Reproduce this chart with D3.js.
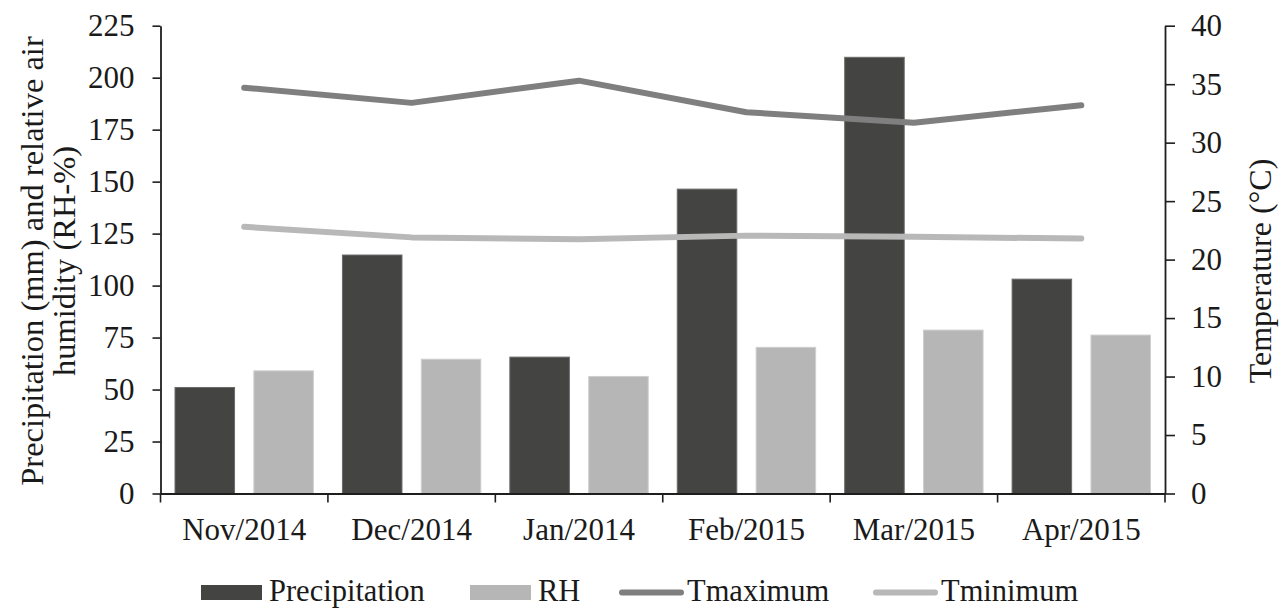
<!DOCTYPE html>
<html>
<head>
<meta charset="utf-8">
<script src="https://cdn.jsdelivr.net/npm/d3@7/dist/d3.min.js"></script>
<style>
  html, body { margin: 0; padding: 0; background: #fff; }
  svg { display: block; }
  text { font-family: "Liberation Serif", "Times New Roman", serif; fill: #1a1a1a; }
</style>
</head>
<body>
<svg id="chart" width="1280" height="608"></svg>
<script>
// Monthly climate data
const months = ["Nov/2014", "Dec/2014", "Jan/2014", "Feb/2015", "Mar/2015", "Apr/2015"];
const precipitation = [51.0, 114.7, 65.6, 146.4, 209.8, 103.1];   // mm
const humidity = [59.0, 64.6, 56.3, 70.3, 78.6, 76.2];             // RH %
const tMax = [34.7, 33.4, 35.3, 32.6, 31.7, 33.2];                 // °C
const tMin = [22.8, 21.9, 21.75, 22.05, 21.95, 21.8];              // °C
const leftTicks = [0, 25, 50, 75, 100, 125, 150, 175, 200, 225];
const rightTicks = [0, 5, 10, 15, 20, 25, 30, 35, 40];
const seriesNames = ["Precipitation", "RH", "Tmaximum", "Tminimum"];

const colors = {
  Precipitation: "#444442",
  RH: "#b6b6b6",
  Tmaximum: "#7f7f7f",
  Tminimum: "#b8b8b8"
};

const svg = d3.select("#chart");
const plot = { left: 160.5, right: 1165, top: 25.7, bottom: 493.5 };

const x = d3.scaleBand().domain(months).range([plot.left, plot.right]).padding(0);
const inner = d3.scaleBand().domain(["Precipitation", "RH"])
  .range([0, x.bandwidth()]).paddingInner(0.245).paddingOuter(0.184);
const yL = d3.scaleLinear().domain([0, 225]).range([plot.bottom, plot.top]);
const yR = d3.scaleLinear().domain([0, 40]).range([plot.bottom, plot.top]);

const fontSize = 31;

// Bars
const barData = [
  { key: "Precipitation", values: precipitation },
  { key: "RH", values: humidity }
];
barData.forEach(s => {
  svg.append("g").selectAll("rect")
    .data(s.values)
    .join("rect")
    .attr("x", (d, i) => x(months[i]) + inner(s.key))
    .attr("y", d => yL(d))
    .attr("width", inner.bandwidth())
    .attr("height", d => yL(0) - yL(d))
    .attr("fill", colors[s.key])
    .attr("stroke", s.key === "Precipitation" ? "#6a6a68" : "#cfcfcf")
    .attr("stroke-width", 1);
});

// Temperature lines
const line = d3.line()
  .x((d, i) => x(months[i]) + x.bandwidth() / 2)
  .y(d => yR(d));
[["Tminimum", tMin], ["Tmaximum", tMax]].forEach(([key, vals]) => {
  svg.append("path")
    .datum(vals)
    .attr("d", line)
    .attr("fill", "none")
    .attr("stroke", colors[key])
    .attr("stroke-width", 6)
    .attr("stroke-linecap", "round")
    .attr("stroke-linejoin", "round");
});

// Left axis
const axL = svg.append("g")
  .attr("transform", `translate(${plot.left},0)`)
  .call(d3.axisLeft(yL).tickValues(leftTicks).tickSize(8).tickSizeOuter(0).tickPadding(18));
// Right axis
const axR = svg.append("g")
  .attr("transform", `translate(${plot.right},0)`)
  .call(d3.axisRight(yR).tickValues(rightTicks).tickSize(10).tickSizeOuter(0).tickPadding(16));
[axL, axR].forEach(ax => {
  ax.select(".domain").attr("stroke", "#1e1e1e").attr("stroke-width", 1.8);
  ax.selectAll(".tick line").attr("stroke", "#1e1e1e").attr("stroke-width", 1.6);
  ax.selectAll(".tick text")
    .style("font-family", '"Liberation Serif", serif')
    .attr("font-size", fontSize).attr("fill", "#1a1a1a");
});

// Bottom axis: labels centred on months, tick marks at month boundaries
const axB = svg.append("g")
  .attr("transform", `translate(0,${plot.bottom})`)
  .call(d3.axisBottom(x).tickSize(0).tickSizeOuter(0).tickPadding(24));
axB.select(".domain").attr("stroke", "#1e1e1e").attr("stroke-width", 2);
axB.selectAll(".tick text")
  .style("font-family", '"Liberation Serif", serif')
  .attr("font-size", fontSize).attr("fill", "#1a1a1a");
const boundaries = months.map(m => x(m)).concat([plot.right]);
svg.append("g").selectAll("line")
  .data(boundaries)
  .join("line")
  .attr("x1", d => d).attr("x2", d => d)
  .attr("y1", plot.bottom).attr("y2", plot.bottom + 9)
  .attr("stroke", "#1e1e1e").attr("stroke-width", 1.6);

// Axis titles
const leftTitle = svg.append("text")
  .attr("transform", `translate(43,261) rotate(-90)`)
  .attr("text-anchor", "middle")
  .attr("font-size", 32.5);
leftTitle.append("tspan").attr("x", 0).attr("y", 0).text("Precipitation (mm) and relative air");
leftTitle.append("tspan").attr("x", 0).attr("y", 32).text("humidity (RH-%)");

svg.append("text")
  .attr("transform", `translate(1271,271) rotate(-90)`)
  .attr("text-anchor", "middle")
  .attr("font-size", 32)
  .text("Temperature (°C)");

// Legend
const legendItems = [
  { key: "Precipitation", type: "rect", x: 201 },
  { key: "RH", type: "rect", x: 470 },
  { key: "Tmaximum", type: "line", x: 619 },
  { key: "Tminimum", type: "line", x: 873 }
];
const lg = svg.append("g");
legendItems.forEach(it => {
  if (it.type === "rect") {
    lg.append("rect").attr("x", it.x).attr("y", 585).attr("width", 61).attr("height", 15)
      .attr("fill", colors[it.key]);
  } else {
    lg.append("line").attr("x1", it.x + 3).attr("x2", it.x + 62)
      .attr("y1", 592.5).attr("y2", 592.5)
      .attr("stroke", colors[it.key]).attr("stroke-width", 6).attr("stroke-linecap", "round");
  }
  lg.append("text").attr("x", it.x + 68).attr("y", 600.5)
    .attr("font-size", 30.5).text(it.key);
});
</script>
</body>
</html>
